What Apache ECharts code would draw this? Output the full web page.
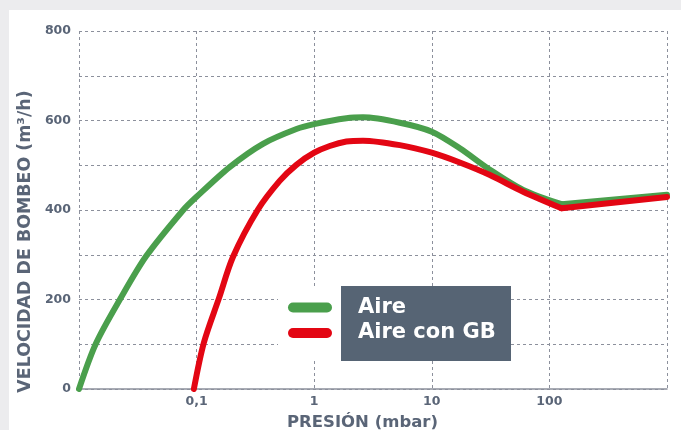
<!DOCTYPE html>
<html>
<head>
<meta charset="utf-8">
<script src="https://cdn.jsdelivr.net/npm/echarts@6/dist/echarts.min.js"></script>
<style>
html,body{margin:0;padding:0;background:#ececee;width:681px;height:430px;overflow:hidden;}
#chart{position:absolute;left:9px;top:10px;width:672px;height:420px;background:#ffffff;}
</style>
</head>
<body>
<div id="chart"></div>
<script>
// Data
const xTickValues = [0.01, 0.1, 1, 10, 100, 1000];
const xTickLabels = ['', '0,1', '1', '10', '100', ''];
const yTickLabels = [0, 200, 400, 600, 800];

const airePres = [0.01, 0.0139, 0.0224, 0.0373, 0.0764, 0.0994, 0.191, 0.367, 0.706, 1, 1.88, 2.6, 5.35, 10, 17.3, 31.2, 59.8, 127];
const aireVel  = [0, 101, 201, 297, 399, 429, 496, 548, 581, 592, 605, 607, 595, 575, 538, 490, 445, 413];
const aireTailPres = [127, 1000];
const aireTailVel  = [413, 434];

const gbPres = [0.0948, 0.1154, 0.155, 0.2037, 0.3305, 0.5086, 0.7056, 1, 1.355, 1.88, 2.6, 5.35, 10, 17.3, 31.2, 59.8, 127];
const gbVel  = [0, 104, 203, 295, 400, 465, 501, 528, 543, 553, 555, 545, 528, 506, 478, 441, 404];
const gbTailPres = [127, 1000];
const gbTailVel  = [404, 429];

const seriesNames = ['Aire', 'Aire con GB'];
const colors = ['#4a9f4c', '#e30613'];

function pairs(xs, ys){ return xs.map((x,i)=>[x, ys[i]]); }

const textColor = '#5a6577';
const gridColor = '#8c909c';
const font = '"DejaVu Sans", sans-serif';

const chart = echarts.init(document.getElementById('chart'), null, {renderer:'canvas'});
chart.setOption({
  animation: false,
  backgroundColor: '#ffffff',
  grid: {left: 70, top: 21, right: 14, bottom: 41, containLabel: false, outerBoundsMode: 'none'},
  xAxis: {
    type: 'log',
    logBase: 10,
    min: xTickValues[0],
    max: xTickValues[xTickValues.length-1],
    interval: 1,
    name: 'PRESIÓN (mbar)',
    nameLocation: 'middle',
    nameGap: 25,
    nameTextStyle: {fontFamily: font, fontWeight: 'bold', fontSize: 16.5, color: textColor, padding: [0, 21, 0, 0], verticalAlign: 'top'},
    axisLine: {show: true, lineStyle: {color: gridColor, width: 1.5}},
    axisTick: {show: false},
    axisLabel: {
      fontFamily: font, fontWeight: 'bold', fontSize: 12.5, color: textColor, margin: 6,
      showMinLabel: true, showMaxLabel: true,
      formatter: function(v){
        const e = Math.round(Math.log10(v));
        const idx = xTickValues.findIndex(t => Math.round(Math.log10(t)) === e);
        return idx >= 0 ? xTickLabels[idx] : '';
      }
    },
    splitLine: {show: true, lineStyle: {color: gridColor, type: [3, 3], width: 1}}
  },
  yAxis: {
    type: 'value',
    min: 0,
    max: 800,
    interval: 100,
    name: 'VELOCIDAD DE BOMBEO (m³/h)',
    nameLocation: 'middle',
    nameGap: 42.5,
    nameRotate: 90,
    nameTextStyle: {fontFamily: font, fontWeight: 'bold', fontSize: 17.4, color: textColor, padding: [0, 63, 0, 0]},
    axisLine: {show: false},
    axisTick: {show: false},
    axisLabel: {
      fontFamily: font, fontWeight: 'bold', fontSize: 12.5, color: textColor, margin: 8,
      formatter: function(v){ return yTickLabels.indexOf(v) >= 0 ? String(v) : ''; }
    },
    splitLine: {show: true, lineStyle: {color: gridColor, type: [3, 3], width: 1}}
  },
  graphic: [
    {type: 'rect', z: 3, shape: {x: 269, y: 276, width: 64, height: 75}, style: {fill: '#ffffff'}},
    {type: 'rect', z: 3, shape: {x: 332, y: 276, width: 170, height: 75}, style: {fill: '#566474'}}
  ],
  legend: {
    data: seriesNames,
    orient: 'vertical',
    left: 279,
    top: 287,
    padding: 0,
    z: 5,
    selectedMode: false,
    itemWidth: 44,
    itemHeight: 11,
    itemGap: 4.5,
    icon: 'path://M5,0 L39,0 A5,5 0 0 1 39,10 L5,10 A5,5 0 0 1 5,0 Z',
    textStyle: {fontFamily: font, fontWeight: 'bold', fontSize: 21, color: '#ffffff', lineHeight: 21, padding: [0, 0, 0, 21]}
  },
  series: [
    {name: seriesNames[0], type: 'line', smooth: 0.3, showSymbol: false, data: pairs(airePres, aireVel),
     lineStyle: {color: colors[0], width: 6, cap: 'round'}, itemStyle: {color: colors[0]}, z: 2},
    {name: seriesNames[0], type: 'line', smooth: false, showSymbol: false, data: pairs(aireTailPres, aireTailVel),
     lineStyle: {color: colors[0], width: 6, cap: 'round'}, itemStyle: {color: colors[0]}, z: 2},
    {name: seriesNames[1], type: 'line', smooth: 0.3, showSymbol: false, data: pairs(gbPres, gbVel),
     lineStyle: {color: colors[1], width: 6, cap: 'round'}, itemStyle: {color: colors[1]}, z: 2},
    {name: seriesNames[1], type: 'line', smooth: false, showSymbol: false, data: pairs(gbTailPres, gbTailVel),
     lineStyle: {color: colors[1], width: 6, cap: 'round'}, itemStyle: {color: colors[1]}, z: 2}
  ]
});
</script>
</body>
</html>
